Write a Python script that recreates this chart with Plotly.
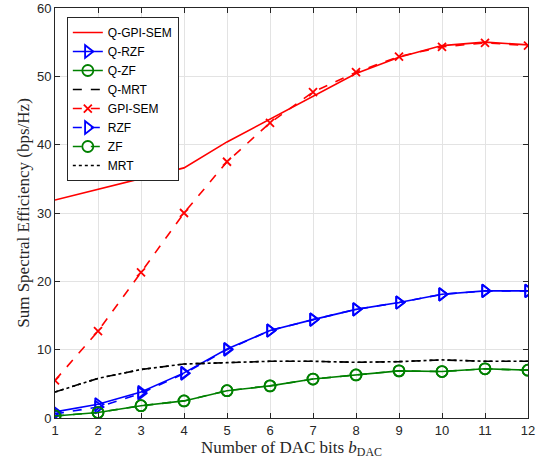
import plotly.graph_objects as go

bits = [1, 2, 3, 4, 5, 6, 7, 8, 9, 10, 11, 12]
q_gpi_sem = [31.9, 33.5, 35.1, 36.6, 40.4, 43.7, 47.0, 50.4, 52.8, 54.5, 55.0, 54.6]
q_rzf = [0.9, 2.0, 3.8, 6.6, 10.1, 12.8, 14.4, 15.9, 16.9, 18.1, 18.6, 18.6]
q_zf = [0.3, 0.8, 1.8, 2.5, 4.0, 4.7, 5.7, 6.3, 6.9, 6.8, 7.2, 7.0]
q_mrt = [3.8, 5.8, 7.1, 7.9, 8.1, 8.3, 8.3, 8.15, 8.25, 8.5, 8.3, 8.3]
gpi_sem = [5.5, 12.7, 21.3, 30.0, 37.5, 43.2, 47.7, 50.6, 52.9, 54.3, 54.9, 54.5]
rzf = [0.6, 1.6, 3.6, 6.5, 10.0, 12.8, 14.4, 15.9, 16.9, 18.1, 18.6, 18.6]
zf = [0.3, 0.8, 1.8, 2.5, 4.0, 4.7, 5.7, 6.3, 6.9, 6.8, 7.2, 7.0]
mrt = [3.8, 5.8, 7.1, 7.9, 8.1, 8.3, 8.3, 8.15, 8.25, 8.5, 8.3, 8.3]

RED = "#ff0000"
BLUE = "#0000ff"
GREEN = "#008000"
BLACK = "#000000"

series = [
    ("Q-GPI-SEM", q_gpi_sem, RED, "solid", None),
    ("Q-RZF", q_rzf, BLUE, "solid", "triangle-right-open"),
    ("Q-ZF", q_zf, GREEN, "solid", "circle-open"),
    ("Q-MRT", q_mrt, BLACK, "dash", None),
    ("GPI-SEM", gpi_sem, RED, "dash", "x-thin"),
    ("RZF", rzf, BLUE, "dash", "triangle-right-open"),
    ("ZF", zf, GREEN, "dash", "circle-open"),
    ("MRT", mrt, BLACK, "dot", None),
]

fig = go.Figure()
for name, vals, col, dash, sym in series:
    kw = {}
    if sym:
        mode = "lines+markers"
        kw["marker"] = dict(symbol=sym, size=11 if sym != "x-thin" else 8,
                            color=col, line=dict(color=col, width=1.8))
    else:
        mode = "lines"
    fig.add_trace(go.Scatter(x=bits, y=vals, name=name, mode=mode,
                             line=dict(color=col, dash=dash, width=1.6), **kw))

axis_common = dict(
    showline=True, linecolor="#262626", linewidth=1, mirror="ticks",
    ticks="inside", ticklen=5, tickcolor="#262626",
    showgrid=True, gridcolor="#e3e3e3", gridwidth=1, zeroline=False,
    automargin=False,
    tickfont=dict(family="Liberation Sans, Arial", size=13, color="#262626"),
)

fig.update_xaxes(range=[1, 12], dtick=1, tick0=1,
                 title=dict(text="Number of DAC bits <i>b</i><sub>DAC</sub>",
                            font=dict(family="Liberation Serif, Times New Roman", size=17, color="#262626"),
                            standoff=0),
                 **axis_common)
fig.update_yaxes(range=[0, 60], dtick=10,
                 title=dict(text="Sum Spectral Efficiency (bps/Hz)",
                            font=dict(family="Liberation Serif, Times New Roman", size=17, color="#262626"),
                            standoff=2),
                 **axis_common)

fig.update_layout(
    width=546, height=466,
    margin=dict(l=55, r=18, t=8, b=48),
    plot_bgcolor="white", paper_bgcolor="white",
    legend=dict(x=0.025, y=0.978, xanchor="left", yanchor="top",
                bgcolor="white", bordercolor="#262626", borderwidth=1,
                font=dict(family="Liberation Sans, Arial", size=12, color="#000000"),
                tracegroupgap=0, itemwidth=30),
    showlegend=True,
)

fig.write_html("out.html", config={"displayModeBar": False},
               post_script="document.body.style.margin='0';")
